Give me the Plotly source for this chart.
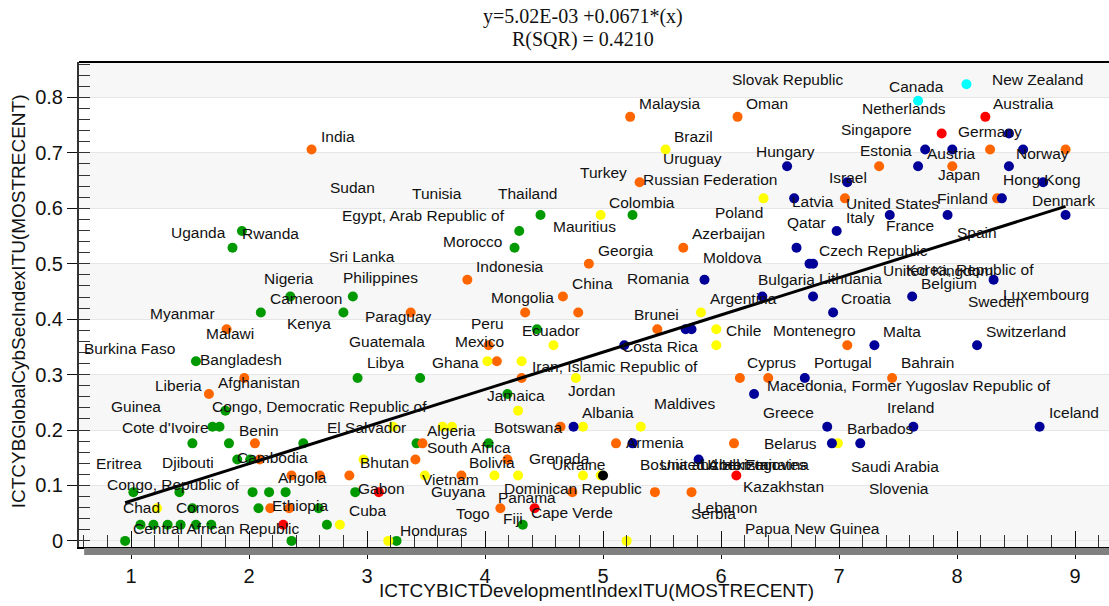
import plotly.graph_objects as go

# points grouped by marker colour (x = ICT development index, y = cyber security index)
green_x = [1.94, 1.86, 4.47, 5.25, 4.29, 4.25, 2.35, 2.88, 2.10, 2.80, 4.44, 1.55, 2.92, 3.45,
           4.19, 1.80, 1.69, 1.75, 1.52, 1.83, 2.46, 3.42, 4.03, 1.90, 2.01, 1.02, 1.41, 2.03,
           2.17, 2.31, 2.90, 1.52, 2.08, 2.59, 1.08, 1.19, 1.31, 1.42, 1.55, 1.68, 2.66, 4.32,
           0.95, 2.36, 3.25]
green_y = [0.559, 0.529, 0.588, 0.588, 0.559, 0.529, 0.441, 0.441, 0.412, 0.412, 0.382, 0.324,
           0.294, 0.294, 0.265, 0.235, 0.206, 0.206, 0.176, 0.176, 0.176, 0.176, 0.176, 0.147,
           0.147, 0.088, 0.088, 0.088, 0.088, 0.088, 0.088, 0.059, 0.059, 0.059, 0.029, 0.029,
           0.029, 0.029, 0.029, 0.029, 0.029, 0.029, 0.0, 0.0, 0.0]

orange_x = [2.53, 5.23, 6.14, 5.31, 8.28, 8.92, 7.34, 7.96, 7.05, 8.34, 5.68, 4.88, 3.85, 4.66,
            4.34, 4.79, 3.37, 1.81, 5.46, 4.03, 4.10, 7.07, 7.45, 6.40, 6.16, 1.96, 4.31, 1.66,
            4.64, 2.05, 3.47, 5.11, 6.11, 3.41, 4.19, 2.09, 2.36, 2.60, 2.85, 3.80, 4.74, 5.44,
            5.75, 4.13, 2.18, 2.34]
orange_y = [0.706, 0.765, 0.765, 0.647, 0.706, 0.706, 0.676, 0.676, 0.618, 0.618, 0.529, 0.500,
            0.471, 0.441, 0.412, 0.412, 0.412, 0.382, 0.382, 0.353, 0.324, 0.353, 0.294, 0.294,
            0.294, 0.294, 0.294, 0.265, 0.206, 0.176, 0.176, 0.176, 0.176, 0.147, 0.147, 0.147,
            0.118, 0.118, 0.118, 0.118, 0.088, 0.088, 0.088, 0.059, 0.059, 0.059]

yellow_x = [5.53, 4.98, 6.36, 5.83, 5.96, 5.96, 4.58, 4.02, 4.31, 4.77, 4.28, 3.64, 3.72, 4.83,
            5.32, 6.99, 3.22, 2.97, 3.49, 4.08, 4.28, 4.83, 4.98, 1.22, 2.77, 3.18, 5.20]
yellow_y = [0.706, 0.588, 0.618, 0.412, 0.382, 0.353, 0.353, 0.324, 0.324, 0.294, 0.235, 0.206,
            0.206, 0.206, 0.206, 0.176, 0.206, 0.147, 0.118, 0.118, 0.118, 0.118, 0.118, 0.059,
            0.029, 0.0, 0.0]

blue_x = [8.44, 7.73, 7.96, 8.56, 6.56, 7.67, 8.44, 7.07, 8.73, 6.62, 8.38, 7.43, 7.92, 8.92,
          6.98, 6.64, 6.75, 6.78, 8.31, 6.35, 6.78, 7.62, 6.95, 7.30, 8.17, 5.86, 5.70, 5.75,
          5.18, 6.71, 6.28, 6.90, 7.63, 8.70, 6.94, 7.18, 4.75, 5.25, 5.81]
blue_y = [0.735, 0.706, 0.706, 0.706, 0.676, 0.676, 0.676, 0.647, 0.647, 0.618, 0.618, 0.588,
          0.588, 0.588, 0.559, 0.529, 0.500, 0.500, 0.471, 0.441, 0.441, 0.441, 0.412, 0.353,
          0.353, 0.471, 0.382, 0.382, 0.353, 0.294, 0.265, 0.206, 0.206, 0.206, 0.176, 0.176,
          0.206, 0.176, 0.147]

red_x = [8.24, 7.87, 6.13, 3.10, 4.42, 2.29]
red_y = [0.765, 0.735, 0.118, 0.088, 0.059, 0.029]

cyan_x = [8.08, 7.67]
cyan_y = [0.824, 0.794]

black_x = [5.00]
black_y = [0.118]

# regression shown in the title
intercept = 5.02e-03
slope = 0.0671
r_sqr = 0.4210

# country labels and where their text sits (data units, left edge / middle)
label_names = [
    "Slovak Republic", "Canada", "New Zealand", "Malaysia", "Oman", "Netherlands", "Australia",
    "India", "Brazil", "Singapore", "Germany", "Hungary", "Estonia", "Austria", "Norway",
    "Uruguay", "Turkey", "Russian Federation", "Israel", "Japan", "Hong Kong", "Sudan",
    "Tunisia", "Thailand", "Colombia", "Latvia", "United States", "Finland", "Denmark",
    "Poland", "Egypt, Arab Republic of", "Mauritius", "Qatar", "Italy", "France", "Spain",
    "Uganda", "Rwanda", "Azerbaijan", "Morocco", "Georgia", "Moldova", "Czech Republic",
    "Sri Lanka", "Indonesia", "Nigeria", "Philippines", "Romania", "Bulgaria", "China",
    "United Kingdom", "Korea, Republic of", "Lithuania", "Belgium", "Cameroon", "Mongolia",
    "Argentina", "Croatia", "Luxembourg", "Sweden", "Myanmar", "Paraguay", "Kenya", "Peru",
    "Brunei", "Ecuador", "Chile", "Montenegro", "Malta", "Switzerland", "Malawi", "Guatemala",
    "Mexico", "Costa Rica", "Burkina Faso", "Bangladesh", "Libya", "Ghana",
    "Iran, Islamic Republic of", "Cyprus", "Portugal", "Bahrain", "Liberia", "Afghanistan",
    "Macedonia, Former Yugoslav Republic of", "Jamaica", "Jordan", "Maldives", "Guinea",
    "Congo, Democratic Republic of", "Albania", "Greece", "Ireland", "Iceland", "Cote d'Ivoire",
    "Benin", "El Salvador", "Algeria", "Botswana", "Barbados", "South Africa", "Armenia",
    "Belarus", "Eritrea", "Djibouti", "Cambodia", "Bhutan", "Bolivia", "Grenada", "Ukraine",
    "Bosnia and Herzegovina", "United Arab Emirates", "Uzbekistan", "Saudi Arabia", "Vietnam",
    "Guyana", "Angola", "Congo, Republic of", "Gabon", "Dominican Republic", "Kazakhstan",
    "Slovenia", "Panama", "Chad", "Comoros", "Ethiopia", "Cuba", "Togo", "Cape Verde",
    "Lebanon", "Serbia", "Fiji", "Central African Republic", "Honduras", "Papua New Guinea",
]
label_x = [
    6.093, 7.424, 8.297, 5.305, 6.212, 7.195, 8.305,
    2.610, 5.602, 7.017, 8.008, 6.297, 7.178, 7.746, 8.500,
    5.508, 4.805, 5.339, 6.915, 7.839, 8.390, 2.686,
    3.381, 4.110, 5.051, 6.602, 7.059, 7.831, 8.636,
    5.949, 2.788, 4.576, 6.559, 7.059, 7.398, 8.000,
    1.339, 1.941, 5.754, 3.644, 4.958, 5.847, 6.831,
    2.678, 3.924, 2.127, 2.797, 5.203, 6.314, 4.737,
    7.373, 7.568, 6.831, 7.695, 2.178, 4.051,
    5.907, 7.017, 8.390, 8.093, 1.161, 2.983, 2.322, 3.881,
    5.263, 4.314, 6.042, 6.441, 7.373, 8.246, 1.636, 2.847,
    3.746, 5.161, 0.602, 1.585, 3.000, 3.551,
    4.398, 6.220, 6.788, 7.525, 1.203, 1.737,
    6.390, 4.017, 4.703, 5.432, 0.831,
    1.686, 4.822, 6.356, 7.407, 8.780, 0.924,
    1.915, 2.661, 3.508, 4.076, 7.068, 3.508, 5.195,
    6.364, 0.703, 1.263, 1.898, 2.941, 3.864, 4.373, 4.568,
    5.314, 5.483, 5.822, 7.102, 3.466,
    3.542, 2.246, 0.797, 2.924, 4.161, 6.186,
    7.254, 4.110, 0.932, 1.381, 2.195, 2.847, 3.754, 4.390,
    5.797, 5.746, 4.153, 1.017, 3.280, 6.203,
]
label_y = [
    0.832, 0.820, 0.832, 0.789, 0.789, 0.780, 0.789,
    0.730, 0.730, 0.742, 0.739, 0.703, 0.705, 0.699, 0.699,
    0.690, 0.665, 0.652, 0.656, 0.661, 0.652, 0.638,
    0.627, 0.627, 0.611, 0.613, 0.609, 0.618, 0.614,
    0.593, 0.587, 0.568, 0.575, 0.584, 0.569, 0.557,
    0.557, 0.555, 0.555, 0.541, 0.524, 0.512, 0.524,
    0.514, 0.495, 0.474, 0.476, 0.474, 0.472, 0.465,
    0.488, 0.490, 0.474, 0.465, 0.438, 0.440,
    0.438, 0.438, 0.445, 0.432, 0.411, 0.405, 0.393, 0.393,
    0.409, 0.380, 0.380, 0.380, 0.377, 0.377, 0.375, 0.359,
    0.359, 0.351, 0.348, 0.328, 0.321, 0.321,
    0.314, 0.321, 0.321, 0.321, 0.281, 0.286,
    0.281, 0.263, 0.272, 0.247, 0.243,
    0.243, 0.232, 0.231, 0.241, 0.231, 0.205,
    0.200, 0.205, 0.200, 0.204, 0.202, 0.168, 0.177,
    0.175, 0.139, 0.142, 0.151, 0.142, 0.142, 0.148, 0.137,
    0.137, 0.137, 0.137, 0.135, 0.110,
    0.090, 0.114, 0.101, 0.094, 0.095, 0.099,
    0.095, 0.079, 0.061, 0.061, 0.063, 0.054, 0.050, 0.052,
    0.061, 0.049, 0.040, 0.023, 0.018, 0.022,
]

x_range = [0.559, 9.288]
y_range = [-0.011, 0.864]

label_font = "Liberation Sans, Arial, sans-serif"
axis_font = "Liberation Sans, Arial, sans-serif"

fig = go.Figure()

groups = [
    (green_x, green_y, "#009900"),
    (orange_x, orange_y, "#ff6600"),
    (yellow_x, yellow_y, "#ffff00"),
    (blue_x, blue_y, "#000099"),
    (red_x, red_y, "#ff0000"),
    (cyan_x, cyan_y, "#00ffff"),
    (black_x, black_y, "#000000"),
]
for gx, gy, col in groups:
    fig.add_trace(go.Scatter(x=gx, y=gy, mode="markers",
                             marker=dict(size=10, color=col, line=dict(width=0)),
                             showlegend=False, hoverinfo="skip"))

# fitted line across the data
all_x = green_x + orange_x + yellow_x + blue_x + red_x + cyan_x + black_x
fit_x = [min(all_x), max(all_x)]
fit_y = [intercept + slope * v for v in fit_x]
fig.add_trace(go.Scatter(x=fit_x, y=fit_y, mode="lines",
                         line=dict(color="black", width=3), showlegend=False))

# invisible overlay axis, only for the long inner major ticks on x
fig.add_trace(go.Scatter(x=x_range, y=[None, None], xaxis="x2", showlegend=False))

for name, lx, ly in zip(label_names, label_x, label_y):
    fig.add_annotation(x=lx, y=ly, text=name, showarrow=False, xanchor="left",
                       yanchor="middle", xshift=-2,
                       font=dict(family=label_font, size=15.5, color="#111"))

# alternating horizontal bands
shapes = []
for lo, hi in [(y_range[0], 0.1), (0.2, 0.3), (0.4, 0.5), (0.6, 0.7), (0.8, y_range[1])]:
    shapes.append(dict(type="rect", xref="paper", yref="y", x0=0, x1=1, y0=lo, y1=hi,
                       fillcolor="#f7f7f7", line=dict(width=0), layer="below"))
# frame top and grey shadow under the x axis
shapes.append(dict(type="line", xref="paper", yref="paper", x0=0, x1=1, y0=1, y1=1,
                   line=dict(color="black", width=2)))
shapes.append(dict(type="rect", xref="paper", yref="paper", x0=0.005, x1=1, y0=-0.0165,
                   y1=-0.002, fillcolor="#808080", line=dict(width=0)))

title_font = dict(family="Liberation Serif, Times New Roman, serif", size=20, color="#111")
fig.add_annotation(xref="paper", yref="paper", x=0.489, y=1.093, showarrow=False,
                   xanchor="center", yanchor="middle",
                   text="y=5.02E-03 +%.4f*(x)" % slope, font=title_font)
fig.add_annotation(xref="paper", yref="paper", x=0.489, y=1.047, showarrow=False,
                   xanchor="center", yanchor="middle",
                   text="R(SQR) = %.4f" % r_sqr, font=title_font)

fig.add_annotation(xref="paper", yref="paper", x=0.502, y=-0.089, showarrow=False,
                   xanchor="center", yanchor="middle",
                   text="ICTCYBICTDevelopmentIndexITU(MOSTRECENT)",
                   font=dict(family=axis_font, size=19, color="#111"))
fig.add_annotation(xref="paper", yref="paper", x=-0.059, y=0.507, showarrow=False,
                   xanchor="center", yanchor="middle",
                   textangle=-90, text="ICTCYBGlobalCybSecIndexITU(MOSTRECENT)",
                   font=dict(family=axis_font, size=19, color="#111"))

fig.update_layout(
    width=1109, height=606,
    margin=dict(l=79, r=0, t=62, b=59, autoexpand=False),
    paper_bgcolor="white", plot_bgcolor="white",
    shapes=shapes,
    xaxis=dict(range=x_range, dtick=1, tick0=0, ticks="outside", ticklen=10, tickwidth=1,
               tickcolor="#111", showgrid=False, zeroline=False, showline=True,
               linecolor="black", linewidth=2, automargin=False,
               minor=dict(dtick=0.2, ticks="inside", ticklen=12, tickcolor="#333"),
               tickfont=dict(family=axis_font, size=20, color="#111")),
    xaxis2=dict(range=x_range, overlaying="x", anchor="y", side="bottom", dtick=1,
                ticks="inside", ticklen=16, tickcolor="#111", showticklabels=False,
                showgrid=False, zeroline=False, showline=False, automargin=False),
    yaxis=dict(range=y_range, dtick=0.1, tick0=0, ticks="outside", ticklen=10, tickwidth=1,
               tickcolor="#111", showgrid=True, gridcolor="#e6e6e6", gridwidth=1,
               zeroline=False, showline=True, linecolor="#333", linewidth=2, automargin=False,
               minor=dict(dtick=0.02, ticks="inside", ticklen=11, tickcolor="#333",
                          showgrid=False),
               tickfont=dict(family=axis_font, size=20, color="#111")),
)

# the page body has a default margin; drop it so the figure sits at the window corner
fig.write_html("out.html", config={"displayModeBar": False},
               post_script="document.body.style.margin='0';document.body.style.overflow='hidden';")
